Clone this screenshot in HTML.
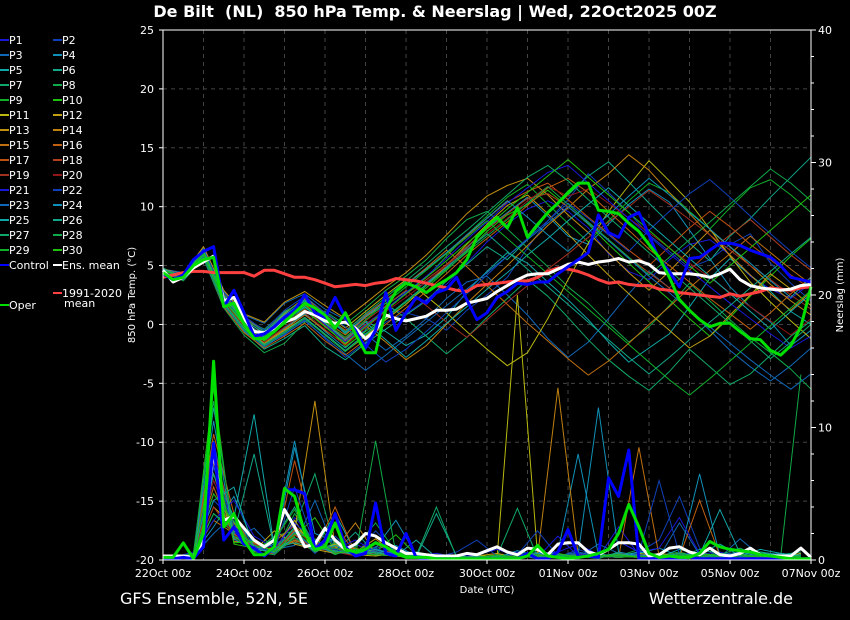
<!DOCTYPE html>
<html><head><meta charset="utf-8"><style>
html,body{margin:0;padding:0;background:#000;}
svg{display:block;font-family:"DejaVu Sans","Liberation Sans",sans-serif;}
.pre{white-space:pre;}
</style></head><body>
<svg id="chart" width="850" height="620" viewBox="0 0 850 620" xmlns="http://www.w3.org/2000/svg">
<rect x="0" y="0" width="850" height="620" fill="#000"/>
<text class="pre" xml:space="preserve" x="435" y="17" fill="#fff" font-size="16" font-weight="bold" text-anchor="middle">De Bilt  (NL)  850 hPa Temp. &amp; Neerslag | Wed, 22Oct2025 00Z</text>
<g id="grid"></g><g id="members"></g><g id="main"></g><g id="axes"></g><g id="legend"></g>
<text x="487" y="593" fill="#fff" font-size="10" text-anchor="middle">Date (UTC)</text>
<text transform="translate(135,295) rotate(-90)" fill="#fff" font-size="10" text-anchor="middle">850 hPa Temp. (°C)</text>
<text transform="translate(843,295) rotate(-90)" fill="#fff" font-size="10" text-anchor="middle">Neerslag (mm)</text>
<text x="120" y="604" fill="#fff" font-size="16">GFS Ensemble, 52N, 5E</text>
<text x="793" y="604" fill="#fff" font-size="16" text-anchor="end">Wetterzentrale.de</text>
</svg>
<script>
const xTickLabels=["22Oct 00z","24Oct 00z","26Oct 00z","28Oct 00z","30Oct 00z","01Nov 00z","03Nov 00z","05Nov 00z","07Nov 00z"];
const tTicks=[25,20,15,10,5,0,-5,-10,-15,-20];
const pTicks=[40,30,20,10,0];
const operT=[4.4,3.8,4.0,5.0,5.5,5.7,1.5,1.8,0.0,-1.2,-1.2,-0.6,0.2,1.0,1.8,1.4,0.8,-0.3,1.0,-0.8,-2.4,-2.4,1.3,2.8,3.5,3.2,2.7,3.3,3.8,4.4,5.5,7.4,8.3,9.1,8.2,9.9,7.4,8.5,9.5,10.3,11.2,12.0,12.0,9.7,9.6,9.4,8.6,7.9,6.8,5.7,4.0,2.1,1.2,0.4,-0.2,0.1,0.1,-0.6,-1.2,-1.3,-2.2,-2.6,-1.8,-0.2,3.2];
const controlT=[4.3,3.8,4.2,5.5,6.2,6.6,1.5,2.9,1.0,-1.0,-0.8,-0.2,0.6,1.2,2.5,1.0,0.6,2.3,0.6,-0.5,-2.0,-0.5,2.7,-0.5,1.0,2.3,1.8,2.7,3.0,4.0,2.1,0.4,1.0,2.3,2.8,3.5,3.4,3.6,3.6,4.3,4.9,5.5,6.1,9.3,7.8,7.4,9.1,9.5,7.6,5.5,4.5,3.2,5.6,5.7,6.3,6.9,6.9,6.7,6.3,6.0,5.7,5.0,4.0,3.8,3.6];
const meanT=[4.6,3.6,4.0,4.8,5.3,5.8,2.0,2.3,0.5,-0.6,-0.7,-0.3,0.2,0.5,1.1,0.8,0.3,0.1,0.2,-0.3,-1.2,-0.5,0.8,0.5,0.3,0.5,0.7,1.2,1.2,1.3,1.8,2.0,2.2,2.8,3.3,3.8,4.2,4.3,4.3,4.7,5.1,5.3,5.1,5.3,5.4,5.6,5.3,5.4,5.1,4.4,4.3,4.3,4.3,4.2,4.0,4.3,4.7,3.8,3.3,3.1,3.0,2.9,3.0,3.3,3.4];
const climT=[4.0,4.2,4.4,4.5,4.5,4.4,4.4,4.4,4.4,4.1,4.6,4.6,4.3,4.0,4.0,3.8,3.5,3.2,3.3,3.4,3.3,3.5,3.6,3.9,3.8,3.7,3.5,3.3,3.1,2.9,2.8,3.3,3.4,3.5,3.6,3.7,3.7,4.0,4.5,4.8,4.7,4.5,4.2,3.8,3.5,3.6,3.4,3.3,3.3,3.0,2.9,2.7,2.6,2.5,2.4,2.3,2.6,2.4,2.6,2.8,3.1,3.0,2.9,3.1,3.2];
const operP=[0.2,0.2,1.3,0.1,2,15,2.5,3.5,1.5,0.4,0.4,1.0,5.4,4.8,2.0,0.8,1.0,2.8,0.8,0.6,0.8,1.3,1.0,0.5,0.2,0.2,0.2,0.1,0.1,0.1,0.1,0.1,0.1,0.1,0.1,0.1,0.3,1.1,0.3,0.2,0.1,0.2,0.3,0.5,0.8,2.0,4.2,2.5,0.5,0.2,0.3,0.2,0.2,0.5,1.4,1.0,0.8,0.7,0.6,0.4,0.3,0.2,0.1,0.1,0.1];
const controlP=[0.1,0.1,0.2,0.1,1,8.8,1.5,2.5,1.2,0.9,0.3,1.0,5.3,5.3,5.0,0.8,1.5,3.5,1.0,0.3,0.5,4.3,0.5,0.3,2.0,0.2,0.1,0.1,0.1,0.1,0.1,0.1,0.1,0.1,0.1,0.1,0.5,0.1,0.1,0.6,2.3,0.3,0.3,0.2,6.2,4.8,8.3,0.1,0.1,0.1,0.1,0.1,0.2,0.1,0.1,0.1,0.1,0.1,0.1,0.1,0.1,0.1,0.1,0.1,0.1];
const meanP=[0.3,0.3,0.3,0.2,1.5,8.3,3.0,3.3,2.4,1.5,1.0,1.5,3.8,2.5,1.0,1.2,2.4,1.5,0.8,1.2,2.0,1.8,1.3,0.9,0.5,0.5,0.4,0.3,0.3,0.3,0.5,0.4,0.7,1.0,0.6,0.4,0.9,0.8,0.4,1.2,1.3,1.3,0.6,0.4,0.8,1.3,1.3,1.2,0.3,0.4,0.9,1.0,0.6,0.4,0.9,0.4,0.3,0.5,0.9,0.4,0.3,0.3,0.3,0.9,0.2];
const memberT=[
[4.6,4.1,6.2,2.0,0.3,-1.0,0.2,1.5,0.5,-1.5,0.8,1.5,0.9,2.1,3.4,5.2,7.0,8.5,9.8,10.5,9.6,8.2,6.0,4.5,3.8,5.5,6.8,7.2,5.9,4.1,3.0,2.2,3.5],
[4.3,3.8,5.8,1.6,-0.5,-1.8,-0.9,0.4,-1.2,-2.8,-1.5,0.2,1.0,0.5,-0.5,1.2,2.5,4.0,6.5,8.8,10.6,12.8,11.2,9.5,7.6,6.2,4.8,5.5,6.8,7.7,5.2,3.5,2.0],
[4.7,4.4,6.5,2.8,0.8,0.1,1.8,2.6,1.3,0.4,-0.8,-2.2,-1.0,0.5,2.2,3.6,4.1,2.5,0.8,-1.2,-2.8,-1.5,0.5,2.6,4.5,3.1,1.2,-0.5,-2.2,-3.6,-4.8,-3.5,-2.0],
[4.4,3.9,6.0,1.9,-0.2,-1.4,-0.3,0.9,-0.6,-2.0,-0.5,1.6,2.8,3.5,4.9,6.5,8.2,9.5,10.8,9.2,7.5,6.8,8.5,10.2,11.5,10.4,8.0,5.6,3.2,1.5,0.2,-1.8,-0.5],
[4.5,4.2,5.9,2.3,0.1,-0.9,0.6,1.2,-0.2,-1.1,0.3,-0.6,-1.8,-0.9,0.6,2.8,4.5,6.1,5.2,3.6,2.1,0.4,-1.5,-3.2,-2.0,-0.8,1.5,3.9,5.6,4.2,2.8,1.1,0.0],
[4.8,4.0,6.3,1.7,-0.6,-2.1,-1.2,-0.1,-1.9,-3.0,-1.6,-0.4,0.8,2.0,3.7,5.1,6.6,5.5,7.2,9.4,11.0,12.6,13.8,12.1,10.3,8.6,6.9,5.4,7.5,9.0,10.8,12.5,14.2],
[4.2,4.3,6.1,2.5,0.5,-0.4,1.1,2.0,0.9,-0.8,0.6,1.8,0.5,-1.0,-2.5,-1.1,0.6,2.2,3.8,2.4,0.6,-1.3,-3.0,-4.4,-5.6,-4.0,-2.1,-3.6,-5.1,-4.2,-2.6,-1.0,0.3],
[4.6,3.7,5.6,1.4,-0.9,-2.4,-1.6,0.2,1.1,0.0,1.4,2.9,4.1,5.5,7.3,8.9,9.6,8.1,6.5,4.9,3.2,1.8,0.1,-1.5,-0.2,1.6,3.5,2.0,0.4,-1.1,-2.4,-3.8,-5.5],
[4.4,4.1,6.4,2.2,0.2,-1.2,0.0,1.4,0.4,-1.6,-0.2,1.2,2.6,4.0,5.8,7.6,9.2,10.8,11.9,10.2,8.6,7.0,8.8,10.5,12.0,11.2,9.6,8.1,9.9,11.6,12.3,11.0,9.5],
[4.5,4.0,6.0,2.1,0.0,-1.3,0.3,1.6,0.1,-1.9,-0.6,0.7,1.9,3.1,4.6,6.2,7.9,9.3,10.2,11.4,10.0,8.5,6.8,5.2,3.6,2.1,0.5,-1.0,0.6,2.4,4.1,5.8,7.3],
[4.6,4.2,6.2,2.4,0.4,-0.8,0.9,2.3,1.0,-0.3,1.1,2.5,3.8,2.4,1.0,-0.6,-2.1,-3.5,-2.4,0.5,3.8,6.9,9.6,11.8,13.9,12.2,10.4,8.1,5.8,3.6,1.9,0.3,-1.2],
[4.3,3.9,5.7,1.8,-0.3,-1.6,-0.5,0.6,-0.9,-2.3,-1.0,0.4,1.7,3.3,5.0,6.8,8.5,10.1,11.0,9.4,7.7,5.9,4.2,2.6,1.0,-0.5,-2.0,-1.0,0.8,2.5,4.3,3.0,1.6],
[4.7,4.3,6.6,2.9,0.9,0.2,1.9,2.8,1.6,0.5,1.8,3.2,4.4,5.9,7.6,9.4,10.9,11.8,12.4,11.0,9.3,7.8,6.1,4.4,2.9,4.5,6.3,8.0,6.6,5.0,3.4,2.0,0.8],
[4.4,4.0,6.1,2.0,-0.1,-1.5,-0.4,0.8,-0.5,-1.7,-0.1,-1.5,-3.0,-1.8,0.0,1.8,3.4,5.0,6.7,8.4,9.9,11.5,12.8,14.4,13.1,11.2,9.4,7.6,5.9,4.2,2.6,1.2,2.8],
[4.5,4.1,6.0,2.3,0.2,-1.0,0.5,1.7,0.3,-0.9,0.6,2.0,3.4,4.8,6.3,4.9,3.3,1.7,0.1,-1.4,-2.9,-4.3,-3.1,-1.6,0.0,1.5,3.1,4.6,6.0,7.5,6.1,4.7,3.4],
[4.6,3.8,5.8,1.5,-0.7,-2.0,-1.0,0.1,-1.4,-2.6,-1.3,0.0,1.4,2.8,4.3,5.9,7.3,8.7,10.1,11.6,12.4,11.2,9.6,8.0,6.4,5.0,3.6,2.2,0.9,-0.4,1.0,2.6,4.0],
[4.4,4.2,6.3,2.6,0.6,-0.6,1.0,2.2,0.8,-0.5,0.8,2.1,3.4,4.7,6.0,7.5,9.0,10.4,11.3,12.0,10.6,9.1,7.7,6.3,5.0,6.6,8.2,9.6,8.3,6.8,5.5,4.2,3.0],
[4.5,4.0,5.9,2.0,0.0,-1.3,0.1,1.3,-0.1,-1.4,0.0,1.3,2.6,3.8,5.1,6.6,8.1,9.4,10.7,11.1,10.0,8.6,7.2,5.7,4.4,3.1,4.6,6.2,7.6,8.9,7.4,5.9,4.6],
[4.6,4.1,6.2,2.2,0.2,-1.1,0.4,1.6,0.2,-1.2,0.3,1.6,2.9,1.6,0.2,-1.1,0.4,1.9,3.3,4.7,6.0,7.4,8.7,10.0,11.4,10.2,8.9,7.6,6.3,5.0,3.8,2.5,1.3],
[4.3,3.9,5.9,1.9,-0.2,-1.5,-0.2,1.0,-0.4,-1.8,-0.3,1.1,2.3,3.6,5.0,6.4,7.7,9.0,10.5,11.7,10.9,11.5,10.3,9.0,7.8,6.5,5.2,4.0,2.7,1.5,0.3,-0.9,0.5],
[4.5,4.0,6.0,2.1,0.1,-1.2,0.2,1.5,0.0,-1.5,-0.1,1.3,2.7,4.1,5.6,7.2,8.7,10.3,11.6,12.9,13.5,12.0,10.5,9.0,7.5,6.0,4.6,3.2,1.8,0.5,-0.8,-2.0,-1.0],
[4.6,4.3,6.4,2.7,0.7,-0.5,1.2,2.4,1.0,-0.2,-1.7,-3.2,-2.1,-0.6,1.0,2.6,4.2,5.8,7.3,8.8,10.3,9.0,7.6,6.2,8.0,9.6,11.1,12.3,10.8,9.2,7.7,6.2,4.8],
[4.4,3.8,5.7,1.6,-0.5,-1.9,-0.8,0.3,-1.1,-2.5,-3.9,-2.6,-1.2,0.2,1.6,3.0,4.4,5.8,7.2,8.6,10.0,8.6,7.1,5.6,4.1,2.7,1.2,-0.2,-1.6,-3.0,-4.3,-5.5,-4.2],
[4.5,4.2,6.1,2.4,0.3,-0.7,0.8,2.0,0.6,-0.7,0.7,2.0,3.4,4.7,6.1,7.6,9.0,10.5,9.1,7.6,6.2,7.8,9.3,10.9,12.4,11.0,9.5,8.1,6.6,5.2,3.7,2.3,4.0],
[4.7,4.1,6.3,2.2,0.1,-1.1,0.3,1.5,0.1,-1.3,0.2,-1.3,-2.8,-1.4,0.1,1.5,3.0,4.4,5.9,7.3,8.8,10.2,11.6,10.1,8.6,7.1,5.6,4.1,2.6,1.1,-0.4,1.1,2.6],
[4.3,4.0,5.9,1.8,-0.3,-1.7,-0.6,0.6,-0.8,-2.2,-0.8,0.6,2.0,3.4,4.8,6.3,7.7,6.2,4.7,3.2,1.7,0.2,-1.3,-2.8,-4.2,-2.8,-1.3,0.2,1.6,3.1,4.5,6.0,7.4],
[4.6,4.2,6.2,2.5,0.5,-0.6,1.0,2.1,0.8,-0.6,0.9,2.3,3.7,5.1,6.6,8.0,9.5,11.0,12.5,13.5,12.2,10.6,9.1,7.6,6.1,4.6,3.1,1.6,0.1,-1.4,-2.9,-1.5,0.0],
[4.4,3.9,5.8,1.7,-0.4,-1.8,-0.7,0.5,-0.9,-2.3,-0.9,0.5,1.9,3.3,4.7,6.1,7.5,8.9,10.3,11.7,10.2,8.7,7.2,5.7,4.2,5.7,7.2,8.7,10.2,11.7,13.2,12.0,10.5],
[4.5,4.1,6.0,2.2,0.2,-1.0,0.4,1.6,0.2,-1.1,0.4,1.8,3.2,4.6,6.0,7.4,8.8,7.3,5.8,4.3,2.8,1.3,-0.2,-1.7,-3.2,-4.7,-6.0,-4.6,-3.1,-1.6,-0.1,1.4,2.9],
[4.6,4.0,6.1,2.0,0.0,-1.4,0.1,1.2,-0.2,-1.6,-0.2,1.2,2.6,4.0,5.4,6.9,8.3,9.8,11.2,12.6,14.0,12.5,11.0,9.5,8.0,6.5,5.0,3.5,5.0,6.5,8.0,9.5,11.0]];
const memberP=[
[0.2,0.5,6.0,2.1,1.0,0.4,3.2,1.5,0.8,1.2,0.5,0.3,0.2,0.1,0.4,0.2,0.1,0.6,0.2,1.8,0.3,0.2,2.5,0.4,0.2,0.3,0.1,0.6,0.2,0.1,0.3,0.2],
[0.1,0.3,4.5,3.0,0.6,1.2,2.0,0.5,1.8,0.4,2.2,0.6,0.3,0.2,0.1,0.1,0.3,0.1,0.5,0.2,0.8,0.3,0.2,0.6,1.5,4.8,0.9,0.3,0.2,0.5,0.1,0.2],
[0.3,0.2,9.0,1.5,2.4,0.8,1.1,4.5,0.7,0.3,1.0,0.8,0.4,0.2,0.3,0.1,0.2,0.4,0.1,0.3,0.2,1.2,0.5,0.3,0.2,2.8,0.4,0.2,1.6,0.3,0.2,0.4],
[0.2,0.4,2.5,4.8,1.2,0.6,8.5,2.0,1.4,0.5,0.9,3.0,0.4,0.1,0.2,0.2,0.1,0.2,0.3,0.6,8.0,0.4,0.2,0.5,0.9,0.3,6.5,0.3,0.2,0.6,0.4,0.1],
[0.1,0.2,7.0,3.2,11.0,0.9,1.6,0.8,3.5,0.6,0.4,0.3,1.5,0.2,0.1,0.1,0.2,0.4,0.1,0.2,0.3,0.2,0.4,0.3,0.2,0.8,0.4,3.8,0.5,0.2,0.3,0.2],
[0.2,0.3,11.5,2.2,0.8,1.6,4.0,1.0,0.6,2.1,0.5,0.4,0.2,3.5,0.3,0.1,0.4,0.2,0.6,0.3,0.1,0.5,0.2,0.3,0.4,0.2,0.8,0.5,0.3,0.2,0.4,0.6],
[0.1,0.5,5.5,1.8,1.0,0.7,2.5,6.5,0.9,0.4,1.4,0.3,0.2,0.5,0.2,0.1,0.3,3.9,0.2,0.4,0.3,0.1,0.6,0.2,0.5,0.3,0.2,0.4,0.9,0.2,0.1,0.3],
[0.3,0.2,8.0,2.6,1.5,0.5,3.5,1.2,0.4,1.0,2.8,0.6,0.3,0.2,0.1,0.2,0.1,0.2,0.4,0.3,0.2,0.4,0.3,0.8,0.2,0.5,0.3,0.2,0.4,0.6,0.2,14.0],
[0.2,0.4,3.5,2.0,0.6,1.8,2.2,0.9,1.6,0.5,0.8,0.4,0.6,0.3,0.2,0.1,0.2,0.5,0.3,0.2,0.4,0.3,0.2,0.4,0.3,0.6,0.2,0.4,0.3,0.2,0.4,0.2],
[0.1,0.3,13.0,1.2,0.9,0.5,1.8,3.2,0.7,0.3,0.6,1.9,0.4,0.2,0.3,0.1,0.2,0.3,0.5,0.2,0.3,0.2,0.5,0.3,0.4,0.2,0.3,0.5,0.2,0.3,0.2,0.4],
[0.2,0.2,4.0,2.5,1.1,0.8,3.0,0.6,1.2,0.4,0.3,0.5,0.2,0.3,0.1,0.4,0.2,20.0,0.3,0.2,0.4,0.3,0.2,0.5,0.3,0.2,0.4,0.3,0.2,0.3,0.2,0.5],
[0.1,0.3,6.5,1.6,0.7,2.2,1.2,0.8,0.5,0.9,0.4,0.3,0.2,0.4,0.2,0.3,0.5,0.2,0.4,0.3,0.2,0.4,0.3,0.2,0.5,0.3,0.2,0.4,0.3,0.2,0.3,0.2],
[0.2,0.5,5.0,2.8,0.9,0.5,2.2,12.0,1.0,0.6,1.6,0.4,0.3,0.2,0.1,0.2,0.3,0.4,0.2,0.3,0.5,0.3,0.2,0.4,0.3,0.5,0.2,0.3,0.4,0.2,0.3,0.2],
[0.3,0.2,7.5,1.4,1.3,0.6,1.5,0.9,0.8,2.8,0.5,0.3,0.2,0.3,0.2,0.1,0.4,0.2,0.3,13.0,0.4,0.2,0.3,0.4,0.2,0.3,0.6,0.2,0.3,0.4,0.2,0.3],
[0.1,0.4,3.0,2.0,0.8,1.4,2.6,1.0,0.6,0.4,0.7,0.5,0.3,0.2,0.1,0.2,0.1,0.3,0.5,0.2,0.3,0.4,0.2,8.5,0.3,0.2,0.4,0.3,0.2,0.4,0.3,0.2],
[0.2,0.2,9.5,3.5,0.6,0.9,1.4,0.7,4.0,0.5,0.6,0.3,0.2,0.1,0.3,0.2,0.4,0.2,0.3,0.2,0.4,0.3,0.2,0.4,0.3,0.2,4.5,0.3,0.2,0.3,0.2,0.4],
[0.1,0.3,5.5,1.7,1.0,0.4,7.5,1.3,0.9,0.3,0.8,0.4,0.3,0.2,0.2,0.1,0.3,0.2,0.4,0.3,0.2,0.3,0.4,0.2,0.3,0.5,0.2,0.3,0.4,0.2,0.3,0.2],
[0.2,0.4,8.5,2.4,0.8,0.7,1.9,0.8,2.5,0.6,0.4,0.8,0.2,0.3,0.1,0.2,0.2,0.4,0.3,0.2,0.5,0.3,0.2,0.3,0.4,0.2,0.3,0.4,0.2,0.3,0.2,0.3],
[0.3,0.2,4.0,1.9,1.2,0.6,2.3,1.1,0.7,0.4,1.2,0.5,0.3,0.2,0.2,0.1,0.2,0.3,0.2,0.4,0.3,0.2,0.4,0.3,0.2,0.4,0.3,0.2,0.3,0.4,0.2,0.3],
[0.1,0.3,6.0,2.2,0.7,1.0,1.6,0.9,0.6,0.3,0.5,0.4,0.2,0.3,0.1,0.2,0.3,0.2,0.4,0.2,0.3,0.2,0.5,0.3,0.2,0.3,0.2,0.4,0.3,0.2,0.3,0.2],
[0.2,0.6,3.0,4.5,1.8,0.9,2.8,1.4,0.8,1.5,0.6,0.4,0.3,0.5,0.2,0.4,0.8,0.3,0.5,0.6,1.2,0.4,1.4,0.6,0.9,3.2,0.5,0.4,0.3,0.2,0.4,0.3],
[0.1,0.4,7.0,2.6,0.9,0.7,5.5,1.0,0.8,0.4,0.9,0.3,0.4,0.2,0.6,1.5,0.3,0.4,2.2,0.3,0.5,0.4,0.3,0.5,6.0,0.4,0.6,0.3,0.2,0.5,0.3,0.2],
[0.2,0.3,2.0,3.4,1.0,0.5,2.1,0.8,1.6,0.4,0.7,0.5,0.3,0.2,0.2,0.1,0.2,0.5,0.2,0.3,0.6,0.3,0.2,0.4,0.3,0.5,0.2,0.4,0.6,0.3,0.2,0.4],
[0.3,0.2,10.5,1.6,0.7,1.2,9.0,1.1,0.5,0.6,0.4,1.1,0.3,0.2,0.1,0.3,0.2,0.7,0.3,0.2,0.4,11.5,0.6,0.3,0.4,0.3,0.5,0.2,0.4,0.3,0.5,0.3],
[0.1,0.4,4.5,5.5,0.8,0.6,1.7,0.7,1.1,0.5,0.8,0.4,0.2,0.3,0.2,0.1,0.3,0.2,0.5,0.3,0.2,0.4,0.3,0.6,0.4,0.3,0.5,1.2,0.3,0.8,0.5,0.3],
[0.2,0.3,6.5,2.0,8.0,0.9,1.3,0.9,0.7,0.4,0.6,0.3,0.4,0.2,0.3,0.2,0.1,0.2,0.3,0.4,0.2,0.3,0.5,0.2,0.3,0.2,0.4,0.3,0.2,0.6,0.3,0.4],
[0.1,0.2,3.5,2.3,1.1,0.7,2.4,1.2,0.6,0.8,0.5,0.4,0.3,4.0,0.2,0.1,0.3,0.2,0.4,0.2,0.3,0.2,0.4,0.3,0.2,0.5,0.3,0.2,0.4,0.3,0.2,0.3],
[0.2,0.5,12.0,1.8,0.6,0.4,1.7,0.6,1.3,0.3,9.0,0.5,0.2,0.3,0.1,0.2,0.2,0.3,0.2,0.3,0.4,0.2,0.3,0.2,0.4,0.3,0.2,0.3,0.2,0.4,0.2,0.3],
[0.3,0.2,5.0,2.9,0.9,1.5,3.8,0.9,0.9,0.5,0.4,0.3,0.5,0.2,0.3,0.1,0.2,0.3,0.4,0.2,0.3,0.4,0.2,0.3,0.2,0.4,0.3,0.5,0.2,0.3,0.4,0.2],
[0.1,0.3,8.0,1.3,1.4,0.6,2.0,1.6,0.5,0.7,1.3,0.6,0.2,0.3,0.2,0.2,0.4,0.2,0.3,0.5,0.2,0.3,0.4,0.2,0.3,0.2,0.5,0.3,0.4,0.2,0.3,0.2]];
const memberColors=["#1818d8","#1040b8","#1068b8","#1090b8","#10a8a8","#10a888","#10a868","#10a848","#10b028","#20c010","#b8b810","#c0a010","#c09010","#c08010","#c07010","#c06010","#c05010","#b04020","#a03020","#901818"];

const NS="http://www.w3.org/2000/svg";
const X0=163,X1=811,Y0=30,Y1=560;
const xH=h=>X0+(X1-X0)*h/384;
const yT=t=>Y0+(25-t)*(Y1-Y0)/45;
const yP=p=>Y1-p*(Y1-Y0)/40;
function mk(tag,attrs,parent){const e=document.createElementNS(NS,tag);for(const k in attrs)e.setAttribute(k,attrs[k]);parent.appendChild(e);return e;}
function pts(arr,step,off,yf){return arr.map((v,i)=>xH(off+i*step).toFixed(1)+","+yf(v).toFixed(1)).join(" ");}
const grid=document.getElementById('grid'),mem=document.getElementById('members'),main=document.getElementById('main'),axes=document.getElementById('axes'),leg=document.getElementById('legend');
for(let d=1;d<16;d++){const gl=mk('line',{x1:xH(d*24),x2:xH(d*24),y1:Y0,y2:Y1,stroke:'#444','stroke-dasharray':'4,4','stroke-width':1},grid);

}
tTicks.forEach(t=>{if(t<25&&t>-20){const gl=mk('line',{x1:X0,x2:X1,y1:yT(t),y2:yT(t),stroke:'#444','stroke-dasharray':'4,4','stroke-width':1},grid);

}});
memberT.forEach((a,k)=>{const l=mk('polyline',{points:pts(a,12,0,yT),fill:'none',stroke:memberColors[k%20],'stroke-width':1,'stroke-linejoin':'round'},mem);

});
memberP.forEach((a,k)=>{const l=mk('polyline',{points:pts(a,12,6,yP),fill:'none',stroke:memberColors[k%20],'stroke-width':1},mem);

});
const series=[[climT,yT,'#ff4040',3,'climate-mean-line'],[meanP,yP,'#ffffff',3,'ens-mean-precip-line'],[controlP,yP,'#0000ff',3,'control-precip-line'],[operP,yP,'#00e000',3,'oper-precip-line'],[meanT,yT,'#ffffff',3,'ens-mean-temp-line'],[controlT,yT,'#0000ff',3,'control-temp-line'],[operT,yT,'#00e000',3,'oper-temp-line']];
series.forEach(s=>{const l=mk('polyline',{points:pts(s[0],6,0,s[1]),fill:'none',stroke:s[2],'stroke-width':s[3],'stroke-linejoin':'round'},main);

});
const frame=mk('rect',{x:X0,y:Y0,width:X1-X0,height:Y1-Y0,fill:'none',stroke:'#fff','stroke-width':1},axes);


tTicks.forEach(t=>{mk('line',{x1:X0-4,x2:X0,y1:yT(t),y2:yT(t),stroke:'#fff'},axes);
const tx=mk('text',{x:X0-9,y:yT(t)+4,fill:'#fff','font-size':11,'text-anchor':'end'},axes);tx.textContent=t;

});
for(let p=0;p<=40;p+=2){mk('line',{x1:X1,x2:X1+(p%10?3:5),y1:yP(p),y2:yP(p),stroke:'#fff'},axes);}
pTicks.forEach(p=>{const tx=mk('text',{x:X1+7,y:yP(p)+4,fill:'#fff','font-size':11},axes);tx.textContent=p;

});
xTickLabels.forEach((s,i)=>{mk('line',{x1:xH(i*48),x2:xH(i*48),y1:Y1,y2:Y1+4,stroke:'#fff'},axes);
const tx=mk('text',{x:xH(i*48),y:577,fill:'#fff','font-size':11,'text-anchor':'middle'},axes);tx.textContent=s;

});
for(let i=1;i<=30;i++){const col=(i%2===1)?0:1,row=Math.floor((i-1)/2);const lx=col?53:0,y=40+row*15;
mk('line',{x1:lx,x2:lx+9,y1:y,y2:y,stroke:memberColors[(i-1)%20],'stroke-width':2},leg);
const tx=mk('text',{x:lx+9,y:y+4,fill:'#fff','font-size':11},leg);tx.textContent='P'+i;

}
const extra=[[0,265,'#0000ff','Control'],[53,265,'#ffffff','Ens. mean'],[53,293,'#ff4040','1991-2020'],[0,305,'#00e000','Oper']];
extra.forEach(e=>{mk('line',{x1:e[0],x2:e[0]+9,y1:e[1],y2:e[1],stroke:e[2],'stroke-width':2},leg);
const tx=mk('text',{x:e[0]+9,y:e[1]+4,fill:'#fff','font-size':11},leg);tx.textContent=e[3];

});
const mt=mk('text',{x:64,y:307,fill:'#fff','font-size':11},leg);mt.textContent='mean';


</script>
</body></html>
